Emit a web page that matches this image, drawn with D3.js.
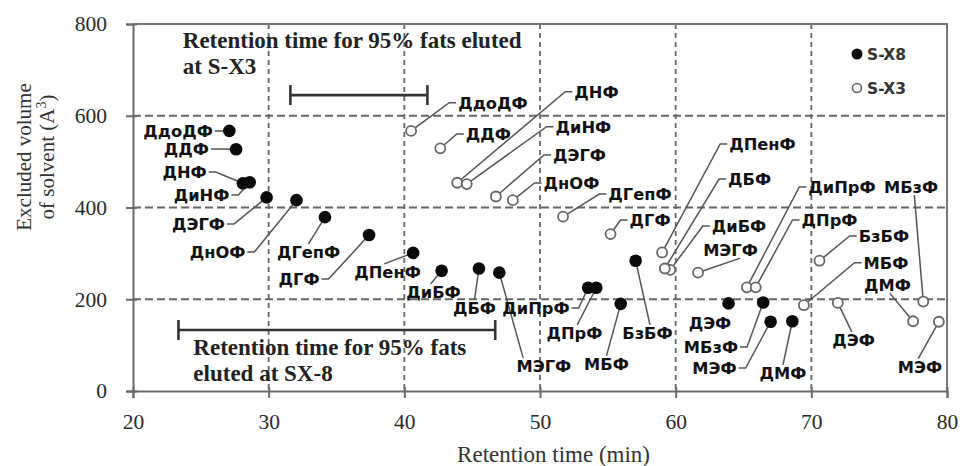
<!DOCTYPE html>
<html>
<head>
<meta charset="utf-8">
<script src="https://cdn.jsdelivr.net/npm/d3@7"></script>
<style>
  body { margin: 0; background: #fff; }
</style>
</head>
<body>
<div id="chart"></div>
<script>
// Excluded volume vs retention time, two columns (S-X8 filled, S-X3 open)

const compounds = ['ДдоДФ', 'ДДФ', 'ДНФ', 'ДиНФ', 'ДЭГФ', 'ДнОФ', 'ДГепФ', 'ДГФ', 'ДПенФ', 'ДиБФ',
                   'ДБФ', 'МЭГФ', 'ДиПрФ', 'ДПрФ', 'МБФ', 'БзБФ', 'ДЭФ', 'МБзФ', 'МЭФ', 'ДМФ'];

const sx8Time   = [27.1, 27.6, 28.1, 28.6, 29.85, 32.05, 34.15, 37.4, 40.65, 42.75,
                   45.5, 47.0, 53.55, 54.15, 55.95, 57.05, 63.9, 66.45, 67.0, 68.6];
const sx8Volume = [567, 527, 453, 455, 422, 416, 379, 340, 301, 262,
                   267, 258, 225, 225, 190, 284, 191, 193, 151, 152];

const sx3Time   = [40.5, 42.65, 43.9, 44.6, 46.75, 48.0, 51.7, 55.2, 59.0, 59.6,
                   59.2, 61.65, 65.25, 65.9, 69.45, 70.6, 71.95, 78.25, 79.4, 77.5];
const sx3Volume = [567, 529, 454, 451, 424, 416, 380, 342, 302, 264,
                   267, 258, 226, 226, 187, 284, 192, 195, 151, 152];

const xTicks = [20, 30, 40, 50, 60, 70, 80];
const yTicks = [0, 200, 400, 600, 800];

// 95 % elution windows
const sx3Window = [31.6, 41.7], sx3WindowLevel = 645;
const sx8Window = [23.35, 46.7], sx8WindowLevel = 133;

// label placement in data units: [time, volume, leader side, fraction along text]
const sx8LabelPos = [
  [23.32, 566.8, 'r'], [23.94, 527.5, 'r'], [23.80, 477.4, 'r'], [25.05, 427.2, 'r'],
  [24.83, 364.0, 'r'], [26.23, 303.0, 'r'], [32.94, 303.0, 't', 0.5], [32.24, 244.1, 'r'],
  [38.76, 259.4, 't', 0.45], [42.15, 215.8, 't', 0.45], [45.17, 180.9, 't', 0.5], [50.29, 54.5, 't', 0.12],
  [49.70, 180.9, 'r'], [52.54, 126.4, 't', 0.55], [54.90, 58.9, 't', 0.5], [57.92, 126.4, 't', 0.55],
  [62.53, 148.9, 'n'], [62.60, 95.9, 'r'], [62.86, 50.1, 'r'], [67.91, 39.2, 't', 0.5]
];
const sx3LabelPos = [
  [46.53, 628.4, 'l'], [46.20, 560.2, 'l'], [54.16, 652.4, 'l'], [53.20, 576.1, 'l'],
  [52.91, 514.4, 'l'], [52.32, 453.4, 'l'], [57.37, 429.4, 'l'], [58.11, 372.8, 'l'],
  [66.40, 538.4, 'l'], [64.67, 359.7, 'l'], [65.45, 462.1, 'l'], [64.04, 307.4, 'b', 0.68],
  [72.26, 444.7, 'l'], [71.34, 372.8, 'l'], [75.50, 279.7, 'l'], [75.35, 337.9, 'l'],
  [73.11, 111.2, 't', 0.46], [77.35, 444.7, 'b', 0.56], [78.01, 53.0, 't', 0.46], [75.61, 231.1, 'b', 0.55]
];

const W = 966, H = 466;
const margin = { top: 24, right: 19, bottom: 75, left: 133 };
const iw = W - margin.left - margin.right;
const ih = H - margin.top - margin.bottom;

const serif = '"Liberation Serif", "Times New Roman", serif';
const sans  = '"DejaVu Sans", "Liberation Sans", Arial, sans-serif';
const labelSize = 16.3;

const svg = d3.select('#chart').append('svg')
  .attr('width', W).attr('height', H);

const g = svg.append('g').attr('transform', `translate(${margin.left},${margin.top})`);

const x = d3.scaleLinear().domain([20, 80]).range([0, iw]);
const y = d3.scaleLinear().domain([0, 800]).range([ih, 0]);

// ── Grid ──────────────────────────────────────────────────────────────────
g.append('g').selectAll('line').data(xTicks.slice(1, -1)).join('line')
  .attr('x1', d => x(d)).attr('x2', d => x(d)).attr('y1', 0).attr('y2', ih)
  .attr('stroke', '#666').attr('stroke-width', 1.8).attr('stroke-dasharray', '5 4');

g.append('g').selectAll('line').data(yTicks.slice(1, -1)).join('line')
  .attr('x1', 0).attr('x2', iw).attr('y1', d => y(d)).attr('y2', d => y(d))
  .attr('stroke', '#666').attr('stroke-width', 1.8).attr('stroke-dasharray', '8 4');

// frame (top + right)
g.append('path')
  .attr('d', `M0,${y(800)}H${x(80)}V${y(0)}`)
  .attr('fill', 'none').attr('stroke', '#777').attr('stroke-width', 2);

// ── Axes ──────────────────────────────────────────────────────────────────
const axisColor = '#6a6a6a';

const gx = g.append('g').attr('transform', `translate(0,${ih})`)
  .call(d3.axisBottom(x).tickValues(xTicks).tickSize(7).tickFormat(d3.format('d')));
const gy = g.append('g')
  .call(d3.axisLeft(y).tickValues(yTicks).tickSize(7).tickFormat(d3.format('d')));

[gx, gy].forEach(a => {
  a.select('.domain').attr('stroke', axisColor).attr('stroke-width', 2);
  a.selectAll('.tick line').attr('stroke', axisColor).attr('stroke-width', 2);
  a.selectAll('.tick text')
    .attr('font-family', serif).attr('font-size', 21.5).attr('fill', '#2a2a2a');
});
gx.selectAll('.tick line').attr('y1', -4);
gx.selectAll('.tick text').attr('y', 38).attr('dy', 0);
gy.selectAll('.tick line').attr('x2', 4).attr('x1', -7);
gy.selectAll('.tick text').attr('x', -26);

// axis titles
svg.append('text')
  .attr('x', margin.left + x(51)).attr('y', 462)
  .attr('text-anchor', 'middle')
  .attr('font-family', serif).attr('font-size', 23).attr('fill', '#333')
  .text('Retention time (min)');

const yTitle = svg.append('text')
  .attr('transform', 'translate(31,157) rotate(-90)')
  .attr('text-anchor', 'middle')
  .attr('font-family', serif).attr('font-size', 21).attr('fill', '#333');
yTitle.append('tspan').attr('x', 0).attr('y', 0).text('Excluded volume');
yTitle.append('tspan').attr('x', 0).attr('y', 23).text('of solvent (A');
yTitle.append('tspan').attr('dy', -8).attr('font-size', 14).text('3');
yTitle.append('tspan').attr('dy', 8).text(')');

// ── Elution windows ───────────────────────────────────────────────────────
function windowBar(range, level) {
  const wg = g.append('g').attr('stroke', '#333').attr('stroke-width', 2.6).attr('fill', 'none');
  wg.append('line')
    .attr('x1', x(range[0])).attr('x2', x(range[1]))
    .attr('y1', y(level)).attr('y2', y(level));
  range.forEach(t => {
    wg.append('line')
      .attr('x1', x(t)).attr('x2', x(t))
      .attr('y1', y(level) - 10).attr('y2', y(level) + 10);
  });
}
windowBar(sx3Window, sx3WindowLevel);
windowBar(sx8Window, sx8WindowLevel);

function note(lines, t, v) {
  const txt = g.append('text')
    .attr('font-family', serif).attr('font-weight', 'bold').attr('font-size', 23).attr('fill', '#222');
  lines.forEach((s, i) => {
    txt.append('tspan').attr('x', x(t)).attr('y', y(v) + i * 26).text(s);
  });
}
note(['Retention time for 95% fats eluted', 'at S-X3'], 23.67, 747);
note(['Retention time for 95% fats', 'eluted at SX-8'], 24.45, 78);

// ── Points + labels ───────────────────────────────────────────────────────
const sx8 = compounds.map((name, i) => ({ name, t: sx8Time[i], v: sx8Volume[i], pos: sx8LabelPos[i] }));
const sx3 = compounds.map((name, i) => ({ name, t: sx3Time[i], v: sx3Volume[i], pos: sx3LabelPos[i] }));

const gLeaders = g.append('g');
const gPoints  = g.append('g');
const gLabels  = g.append('g');

function drawLabels(data, r) {
  data.forEach(d => {
    const [lt, lv, side, frac] = d.pos;
    const cx = x(lt), cy = y(lv);
    const txt = gLabels.append('text')
      .attr('x', cx).attr('y', cy + labelSize * 0.36)
      .attr('text-anchor', 'middle')
      .attr('font-family', sans).attr('font-weight', 'bold')
      .attr('font-size', labelSize).attr('fill', '#111')
      .text(d.name);
    if (side === 'n') return;
    const bb = txt.node().getBBox();
    const px = x(d.t), py = y(d.v);
    let sx, sy, path;
    if (side === 'r' || side === 'l') {
      const dir = side === 'r' ? 1 : -1;
      sx = side === 'r' ? bb.x + bb.width + 2 : bb.x - 2;
      sy = cy;
      const ex = sx + dir * 7;
      const ang = Math.atan2(py - sy, px - ex);
      path = `M${sx},${sy}H${ex}L${px - Math.cos(ang) * r},${py - Math.sin(ang) * r}`;
    } else {
      sx = bb.x + frac * bb.width;
      sy = side === 't' ? cy - labelSize * 0.5 : cy + labelSize * 0.5;
      const ang = Math.atan2(py - sy, px - sx);
      path = `M${sx},${sy}L${px - Math.cos(ang) * r},${py - Math.sin(ang) * r}`;
    }
    gLeaders.append('path').attr('d', path)
      .attr('fill', 'none').attr('stroke', '#555').attr('stroke-width', 1.5);
  });
}

drawLabels(sx8, 0);
drawLabels(sx3, 5);

gPoints.selectAll('.sx3').data(sx3).join('circle')
  .attr('class', 'sx3')
  .attr('cx', d => x(d.t)).attr('cy', d => y(d.v)).attr('r', 5)
  .attr('fill', '#fff').attr('stroke', '#666').attr('stroke-width', 1.8);

gPoints.selectAll('.sx8').data(sx8).join('circle')
  .attr('class', 'sx8')
  .attr('cx', d => x(d.t)).attr('cy', d => y(d.v)).attr('r', 6.3)
  .attr('fill', '#0a0a0a');

// ── Legend ────────────────────────────────────────────────────────────────
const legend = svg.append('g').attr('transform', 'translate(857,54)');
const legendItems = [['S-X8', true], ['S-X3', false]];
legendItems.forEach(([name, filled], i) => {
  const row = legend.append('g').attr('transform', `translate(0,${i * 34})`);
  row.append('circle').attr('r', filled ? 5.5 : 4.5)
    .attr('fill', filled ? '#0a0a0a' : '#fff')
    .attr('stroke', filled ? 'none' : '#666').attr('stroke-width', 1.6);
  row.append('text').attr('x', 10).attr('y', 6)
    .attr('font-family', sans).attr('font-weight', 'bold').attr('font-size', 15.5)
    .attr('fill', '#333').text(name);
});
</script>
</body>
</html>
